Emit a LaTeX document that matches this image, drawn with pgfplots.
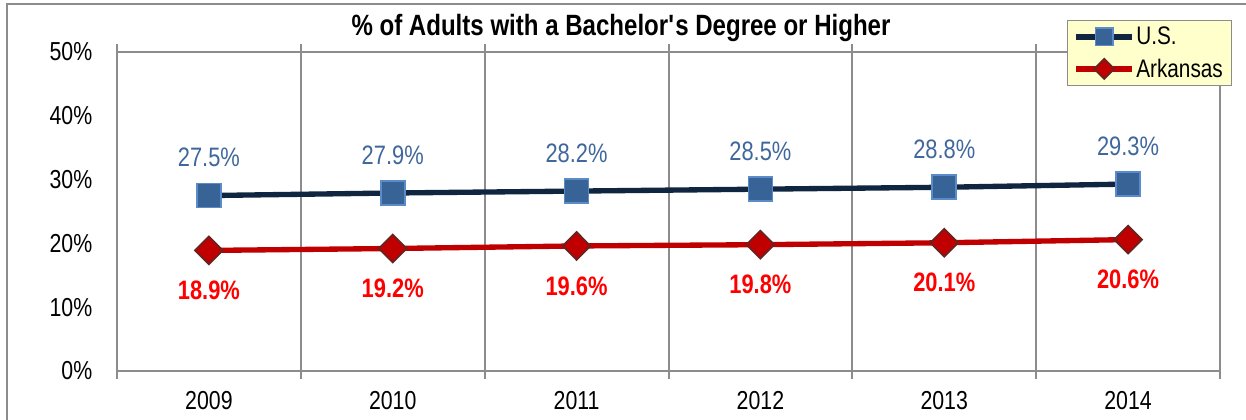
\documentclass[border=0pt]{standalone}
\usepackage{pgfplots}
\pgfplotsset{compat=1.18}
\usepackage{fontspec}
\setmainfont{Liberation Sans}[FakeStretch=0.82]
\definecolor{usline}{HTML}{10253F}
\definecolor{usfill}{HTML}{386396}
\definecolor{usedge}{HTML}{5B8BC8}
\definecolor{uslabel}{HTML}{3F679C}
\definecolor{arline}{HTML}{C00000}
\definecolor{aredge}{HTML}{632523}
\definecolor{arlabel}{HTML}{FF0000}
\definecolor{gridgray}{HTML}{8C8C8C}
\definecolor{legfill}{HTML}{FFFFCC}
\begin{document}
\begin{tikzpicture}[font=\fontsize{19.5}{22}\selectfont]
\begin{scope}[x=0.75pt,y=-0.75pt]
\useasboundingbox (0,0) rectangle (1246,419);
\draw[gridgray, line width=1.5pt] (7,4) rectangle (1254,428);
\node[font=\fontsize{22}{25}\selectfont\bfseries] at (621,28) {\% of Adults with a Bachelor\textquotesingle s Degree or Higher};
\end{scope}
\begin{axis}[
  at={(87.75pt,-39pt)}, anchor=north west,
  width=827.25pt, height=239.25pt, scale only axis,
  xmin=-0.5, xmax=5.5, ymin=0, ymax=50,
  xtick={0,...,5}, xticklabels={2009,2010,2011,2012,2013,2014},
  minor xtick={-0.5,0.5,...,5.5},
  xminorgrids=true,
  minor grid style={gridgray, line width=1.5pt},
  major tick length=0pt, minor tick length=6pt,
  tick align=outside,
  tick style={gridgray, line width=1.5pt},
  ytick={0,10,...,50},
  yticklabel={\pgfmathprintnumber[assume math mode=true]{\tick}\%},
  xticklabel style={yshift=-12pt},
  yticklabel style={xshift=-15pt},
  ticklabel style={font=\fontsize{19.5}{22}\selectfont},
  axis line style={gridgray, line width=1.5pt},
  legend style={at={(0.861,1.1)}, anchor=north west, fill=legfill, draw=gridgray,
    font=\fontsize{19}{21}\selectfont, inner xsep=5pt, inner ysep=4pt, row sep=7pt,
    nodes={inner sep=1pt}},
  legend cell align=left,
  legend image code/.code={\draw[mark repeat=2,mark phase=2, every mark/.append style={scale=0.72}] plot coordinates {(0pt,0pt)(21pt,0pt)(42pt,0pt)};},
]
\addplot[color=usline, line width=4pt, mark=square*, mark size=9pt,
  mark options={fill=usfill, draw=usedge, line width=1.2pt},
  nodes near coords={\pgfmathprintnumber[fixed,fixed zerofill,precision=1,assume math mode=true]{\pgfplotspointmeta}\%},
  every node near coord/.append style={color=uslabel, anchor=center, yshift=28.5pt, font=\fontsize{20}{22}\selectfont}]
  coordinates {(0,27.5)(1,27.9)(2,28.2)(3,28.5)(4,28.8)(5,29.3)};
\addlegendentry{U.S.}
\addplot[color=arline, line width=4pt, mark=diamond*, mark size=10.5pt,
  mark options={xscale=1.33, fill=arline, draw=aredge, line width=1.2pt},
  nodes near coords={\pgfmathprintnumber[fixed,fixed zerofill,precision=1,assume math mode=true]{\pgfplotspointmeta}\%},
  every node near coord/.append style={color=arlabel, anchor=center, yshift=-30pt, font=\fontsize{20}{22}\selectfont\bfseries}]
  coordinates {(0,18.9)(1,19.2)(2,19.6)(3,19.8)(4,20.1)(5,20.6)};
\addlegendentry{Arkansas}
\end{axis}
\end{tikzpicture}
\end{document}
